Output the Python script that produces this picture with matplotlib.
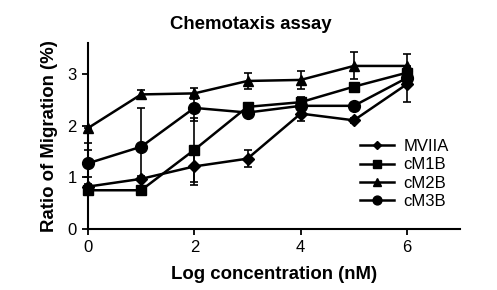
import matplotlib
matplotlib.use("Agg")
import matplotlib.pyplot as plt

plt.rcParams['font.family'] = ['Liberation Sans', 'DejaVu Sans']

conc = [0, 1, 2, 3, 4, 5, 6]

mviia = [0.82, 0.97, 1.21, 1.36, 2.23, 2.10, 2.80]
mviia_err = [0.05, 0.05, 0.35, 0.16, 0.15, 0.05, 0.34]

cm1b = [0.75, 0.75, 1.53, 2.36, 2.45, 2.75, 3.02]
cm1b_err = [0.05, 0.05, 0.62, 0.05, 0.10, 0.05, 0.10]

cm2b = [1.95, 2.60, 2.62, 2.86, 2.88, 3.15, 3.15]
cm2b_err_lo = [0.29, 0.08, 0.10, 0.16, 0.18, 0.26, 0.23]
cm2b_err_hi = [0.0, 0.08, 0.10, 0.16, 0.18, 0.26, 0.23]

cm3b = [1.27, 1.59, 2.34, 2.25, 2.38, 2.38, 2.92]
cm3b_err = [0.26, 0.75, 0.25, 0.05, 0.08, 0.05, 0.10]

names = ["MVIIA", "cM1B", "cM2B", "cM3B"]
series = [mviia, cm1b, cm2b, cm3b]
errors = [mviia_err, cm1b_err, [cm2b_err_lo, cm2b_err_hi], cm3b_err]
markers = ["D", "s", "^", "o"]
msizes = [6, 7.5, 7.5, 8.5]

fig = plt.figure(figsize=(4.97, 2.90), dpi=100)
ax = fig.add_axes([0.177, 0.21, 0.749, 0.643])

for name, vals, err, m, ms in zip(names, series, errors, markers, msizes):
    ax.errorbar(conc, vals, yerr=err, color='black', marker=m, markersize=ms,
                linewidth=1.8, elinewidth=1.2, capsize=3, capthick=1.2,
                label=name, clip_on=False)

ax.set_xlim(0, 7)
ax.set_ylim(0, 3.6)
ax.set_xticks([0, 2, 4, 6])
ax.set_yticks([0, 1, 2, 3])
ax.spines['top'].set_visible(False)
ax.spines['right'].set_visible(False)
ax.spines['left'].set_linewidth(1.5)
ax.spines['bottom'].set_linewidth(1.5)
ax.tick_params(direction='out', length=4, width=1.3, labelsize=12, pad=4)

ax.set_xlabel("Log concentration (nM)", fontsize=13.4, fontweight='bold', labelpad=8)
ax.set_ylabel("Ratio of Migration (%)", fontsize=13.4, fontweight='bold', labelpad=7)
fig.text(0.505, 0.917, "Chemotaxis assay", ha='center', va='center',
         fontsize=13.4, fontweight='bold')

handles, labels = ax.get_legend_handles_labels()
handles = [h[0] for h in handles]
ax.legend(handles, labels, loc='upper left', bbox_to_anchor=(0.7, 0.545),
          frameon=False, fontsize=12, handlelength=2.0, handletextpad=0.6,
          labelspacing=0.2, borderpad=0.2, markerscale=0.75)

fig.savefig("out.png", dpi=100)
